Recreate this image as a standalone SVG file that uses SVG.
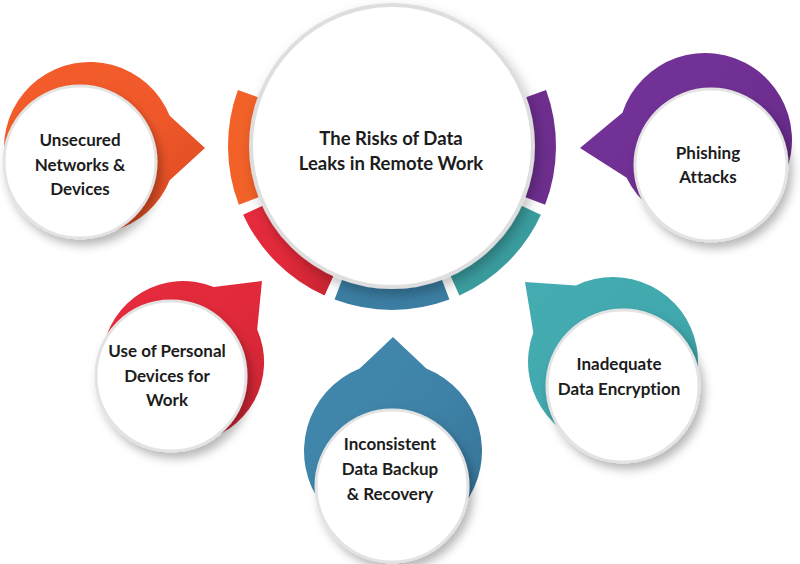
<svg xmlns="http://www.w3.org/2000/svg" width="800" height="564" viewBox="0 0 800 564">
  <defs>
    <filter id="shadow" x="-30%" y="-30%" width="160%" height="160%">
      <feDropShadow dx="4" dy="6" stdDeviation="5" flood-color="#000" flood-opacity="0.28"/>
    </filter>
    <filter id="shadowBig" x="-20%" y="-20%" width="140%" height="140%">
      <feDropShadow dx="3" dy="6" stdDeviation="6" flood-color="#000" flood-opacity="0.25"/>
    </filter>
    <linearGradient id="gOrange" x1="0" y1="0" x2="1" y2="1">
      <stop offset="0" stop-color="#F45E2A"/>
      <stop offset="0.55" stop-color="#F0582A"/>
      <stop offset="1" stop-color="#D8461F"/>
    </linearGradient>
    <linearGradient id="gPurple" x1="0" y1="0" x2="1" y2="1">
      <stop offset="0" stop-color="#74339A"/>
      <stop offset="0.55" stop-color="#6F2F92"/>
      <stop offset="1" stop-color="#5E2580"/>
    </linearGradient>
    <linearGradient id="gRed" x1="0" y1="0" x2="1" y2="1">
      <stop offset="0" stop-color="#E62B3D"/>
      <stop offset="0.55" stop-color="#E0293A"/>
      <stop offset="1" stop-color="#C72432"/>
    </linearGradient>
    <linearGradient id="gBlue" x1="0" y1="0" x2="1" y2="1">
      <stop offset="0" stop-color="#4289AE"/>
      <stop offset="0.55" stop-color="#3E82A7"/>
      <stop offset="1" stop-color="#336F91"/>
    </linearGradient>
    <linearGradient id="gTeal" x1="0" y1="0" x2="1" y2="1">
      <stop offset="0" stop-color="#45ADB2"/>
      <stop offset="0.55" stop-color="#41A8AD"/>
      <stop offset="1" stop-color="#34969B"/>
    </linearGradient>
    <style>
      .disc { fill: #ffffff; stroke: #e3e3e3; stroke-width: 3; filter: url(#shadow); }
      .lbl { font-family: Lato, "Open Sans", "Liberation Sans", sans-serif; font-weight: 700; font-size: 17px; fill: #1c1c1c; text-anchor: middle; font-variant-ligatures: none; }
      .title { font-size: 18.5px; }
    </style>
  </defs>

  <!-- central node with ring -->
  <g id="center">
    <path d="M 546.1 89.9 A 164 164 0 0 1 545.1 204.8 L 519.0 194.7 A 136 136 0 0 0 519.8 99.5 Z" fill="#6D2E8E"/>
    <path d="M 540.9 214.7 A 164 164 0 0 1 459.4 295.5 L 447.9 270.0 A 136 136 0 0 0 515.5 202.9 Z" fill="#3A9C9E"/>
    <path d="M 449.4 299.6 A 164 164 0 0 1 334.6 299.6 L 344.4 273.4 A 136 136 0 0 0 439.6 273.4 Z" fill="#3B7EA3"/>
    <path d="M 324.6 295.5 A 164 164 0 0 1 243.1 214.7 L 268.5 202.9 A 136 136 0 0 0 336.1 270.0 Z" fill="url(#gRed)"/>
    <path d="M 238.9 204.8 A 164 164 0 0 1 237.9 89.9 L 264.2 99.5 A 136 136 0 0 0 265.0 194.7 Z" fill="#F26228"/>
    <circle cx="392" cy="146" r="141" fill="#ffffff" stroke="#dedede" stroke-width="4" filter="url(#shadowBig)"/>
    <text class="lbl title" x="391" y="145">The Risks of Data</text>
    <text class="lbl title" x="391" y="169.5">Leaks in Remote Work</text>
  </g>

  <g id="node-unsecured">
    <path d="M 169.7 115.8 L 205 148 L 169.7 180.2 A 86 86 0 1 1 169.7 115.8 Z" fill="url(#gOrange)"/>
    <circle class="disc" cx="80" cy="162" r="76"/>
    <text class="lbl" x="80" y="146">Unsecured</text>
    <text class="lbl" x="80" y="170.5">Networks &amp;</text>
    <text class="lbl" x="80" y="195">Devices</text>
  </g>

  <g id="node-phishing">
    <path d="M 626.6 177.7 L 580 148 L 622.4 112.7 A 87 87 0 1 1 626.6 177.7 Z" fill="url(#gPurple)"/>
    <circle class="disc" cx="711" cy="165" r="76"/>
    <text class="lbl" x="708" y="158.5">Phishing</text>
    <text class="lbl" x="708" y="182.5">Attacks</text>
  </g>

  <g id="node-personal-devices">
    <path d="M 213.7 287.1 L 262 281 L 257.2 329.4 A 81 81 0 1 1 213.7 287.1 Z" fill="url(#gRed)"/>
    <circle class="disc" cx="171" cy="376" r="75"/>
    <text class="lbl" x="167" y="357">Use of Personal</text>
    <text class="lbl" x="167" y="381.5">Devices for</text>
    <text class="lbl" x="167" y="406">Work</text>
  </g>

  <g id="node-backup">
    <path d="M 359.7 368.5 L 393 337 L 426.3 368.5 A 89 89 0 1 1 359.7 368.5 Z" fill="url(#gBlue)"/>
    <circle class="disc" cx="392" cy="486" r="76"/>
    <text class="lbl" x="390" y="450">Inconsistent</text>
    <text class="lbl" x="390" y="475">Data Backup</text>
    <text class="lbl" x="390" y="499.5">&amp; Recovery</text>
  </g>

  <g id="node-encryption">
    <path d="M 533.3 332.5 L 525 282 L 576.1 285.4 A 85 85 0 1 1 533.3 332.5 Z" fill="url(#gTeal)"/>
    <circle class="disc" cx="623" cy="386" r="76"/>
    <text class="lbl" x="619" y="370">Inadequate</text>
    <text class="lbl" x="619" y="394.5">Data Encryption</text>
  </g>

  <g id="connectors"/>
</svg>
